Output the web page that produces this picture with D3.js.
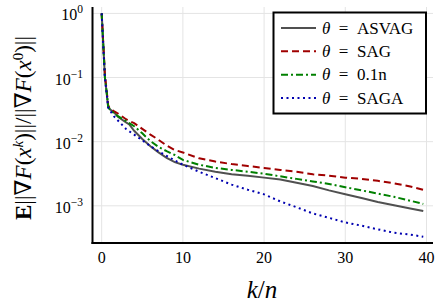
<!DOCTYPE html>
<html lang="en">
<head>
<meta charset="UTF-8">
<title>ASVAG vs SAG vs SAGA</title>
<style>
body { margin: 0; background: #fff; }
svg text { font-family: "Liberation Serif", "DejaVu Serif", serif; fill: #000; }
.grid line { stroke: #e4e4e4; stroke-width: 1; }
</style>
</head>
<body>
<svg id="chart" width="443" height="306"></svg>
<script src="https://d3js.org/d3.v7.min.js"></script>
<script>
// epochs k/n
var epochs = [0, 0.2, 0.4, 0.6, 0.8, 1, 1.5, 2, 3, 3.4, 4, 5, 6, 7, 8, 9, 10, 12, 14, 16, 18, 20, 22, 24, 26, 28, 30, 32, 34, 36, 38, 39.6];

var asvag = [1, 0.32, 0.1, 0.06, 0.035, 0.032, 0.029, 0.0245, 0.020, 0.0186, 0.0148, 0.011, 0.0085, 0.0068, 0.0056, 0.0048, 0.00437,
  0.0038, 0.0034, 0.0031, 0.00295, 0.00275, 0.00257, 0.00229, 0.00204, 0.00174, 0.00151, 0.00132, 0.00115, 0.00102, 0.00091, 0.00083];
var sag = [1, 0.33, 0.11, 0.065, 0.037, 0.033, 0.030, 0.0275, 0.0224, 0.021, 0.0195, 0.0158, 0.0129, 0.0107, 0.0087, 0.0074, 0.0068,
  0.0055, 0.0049, 0.00447, 0.00417, 0.0039, 0.00363, 0.00339, 0.0031, 0.00295, 0.00275, 0.00263, 0.00245, 0.00224, 0.0020, 0.00178];
var tenth = [1, 0.32, 0.1, 0.062, 0.035, 0.032, 0.028, 0.025, 0.021, 0.0195, 0.0174, 0.0135, 0.0102, 0.0083, 0.0071, 0.0062, 0.0052,
  0.00437, 0.0039, 0.00363, 0.0034, 0.00316, 0.00288, 0.00263, 0.0024, 0.00219, 0.00195, 0.00174, 0.00155, 0.00138, 0.0012, 0.00107];
var saga = [1, 0.30, 0.1, 0.058, 0.034, 0.031, 0.025, 0.0214, 0.0158, 0.0145, 0.0129, 0.0105, 0.0085, 0.0071, 0.006, 0.0051, 0.00437,
  0.0034, 0.0027, 0.00214, 0.00178, 0.00151, 0.00117, 0.00095, 0.00076, 0.00065, 0.00055, 0.00049, 0.00043, 0.00038, 0.000355, 0.00033];

var labels = ["ASVAG", "SAG", "0.1n", "SAGA"];
var xTicks = [0, 10, 20, 30, 40];
var yTicks = [1, 0.1, 0.01, 0.001];
var yExps = ["0", "\u22121", "\u22122", "\u22123"];

var series = [
  { name: labels[0], values: asvag, color: "#505050", dash: null },
  { name: labels[1], values: sag, color: "#a00000", dash: "7,4" },
  { name: labels[2], values: tenth, color: "#008000", dash: "7,3,2,3" },
  { name: labels[3], values: saga, color: "#0000b0", dash: "2,3.5" }
];

var pLeft = 92.5, pRight = 433, pTop = 7, pBottom = 243;

var x = d3.scaleLinear().domain([-1.13, 40.8]).range([pLeft, pRight]);
var y = d3.scaleLog().domain([Math.pow(10, -3.58), Math.pow(10, 0.1)]).range([pBottom, pTop]);

var svg = d3.select("#chart");

// grid
var grid = svg.append("g").attr("class", "grid");
grid.selectAll(".vx").data(xTicks).enter().append("line")
  .attr("x1", d => x(d)).attr("x2", d => x(d))
  .attr("y1", pTop).attr("y2", pBottom);
grid.selectAll(".hy").data(yTicks).enter().append("line")
  .attr("x1", pLeft).attr("x2", pRight)
  .attr("y1", d => y(d)).attr("y2", d => y(d));

// lines
var line = d3.line()
  .x((d, i) => x(epochs[i]))
  .y(d => y(d));

svg.append("g").selectAll("path").data(series).enter().append("path")
  .attr("d", d => line(d.values))
  .attr("fill", "none")
  .attr("stroke", d => d.color)
  .attr("stroke-width", 2)
  .attr("stroke-dasharray", d => d.dash);

// axes (frame style: left + bottom)
svg.append("line").attr("x1", pLeft).attr("x2", pLeft).attr("y1", pTop).attr("y2", pBottom + 1)
  .attr("stroke", "#000").attr("stroke-width", 2);
svg.append("line").attr("x1", pLeft - 1).attr("x2", pRight).attr("y1", pBottom).attr("y2", pBottom)
  .attr("stroke", "#000").attr("stroke-width", 2);

// x tick labels
svg.selectAll(".xt").data(xTicks).enter().append("text")
  .attr("x", d => x(d)).attr("y", 263)
  .attr("text-anchor", "middle")
  .style("font-size", "16px")
  .text(d => d);

// y tick labels
var yl = svg.selectAll(".yt").data(yTicks).enter().append("text")
  .attr("x", 83).attr("y", d => y(d) + 7)
  .attr("text-anchor", "end")
  .style("font-size", "16px");
yl.append("tspan").text("10");
yl.append("tspan").attr("dy", -7).style("font-size", "11.5px").text((d, i) => yExps[i]);

// x axis title
var xt = svg.append("text").attr("x", 262).attr("y", 298)
  .attr("text-anchor", "middle").style("font-size", "25px");
xt.append("tspan").style("font-style", "italic").text("k");
xt.append("tspan").text("/");
xt.append("tspan").style("font-style", "italic").text("n");

// y axis title
var yt = svg.append("text")
  .attr("transform", "translate(31,128) rotate(-90)")
  .attr("text-anchor", "middle").style("font-size", "23px");
yt.append("tspan").style("font-weight", "bold").text("E");
yt.append("tspan").text("||\u2207");
yt.append("tspan").style("font-style", "italic").text("F");
yt.append("tspan").text("(");
yt.append("tspan").style("font-style", "italic").text("x");
yt.append("tspan").attr("dy", -8).style("font-size", "15px").style("font-style", "italic").text("k");
yt.append("tspan").attr("dy", 8).text(")||/||\u2207");
yt.append("tspan").style("font-style", "italic").text("F");
yt.append("tspan").text("(");
yt.append("tspan").style("font-style", "italic").text("x");
yt.append("tspan").attr("dy", -8).style("font-size", "15px").text("0");
yt.append("tspan").attr("dy", 8).text(")||");

// legend
var lg = svg.append("g");
lg.append("rect").attr("x", 273.5).attr("y", 12.5).attr("width", 152.5).attr("height", 101)
  .attr("fill", "#fff").attr("stroke", "#000").attr("stroke-width", 2);
var ly = d3.scalePoint().domain(labels).range([28, 98]);
var item = lg.selectAll(".it").data(series).enter().append("g");
item.append("line")
  .attr("x1", 281).attr("x2", 316)
  .attr("y1", d => ly(d.name)).attr("y2", d => ly(d.name))
  .attr("stroke", d => d.color).attr("stroke-width", 2)
  .attr("stroke-dasharray", d => d.dash);
var lt = item.append("text")
  .attr("x", 322).attr("y", d => ly(d.name) + 5.5)
  .style("font-size", "17px");
lt.append("tspan").style("font-style", "italic").text("\u03b8");
lt.append("tspan").text(d => "\u2002=\u2002" + d.name);
</script>
</body>
</html>
